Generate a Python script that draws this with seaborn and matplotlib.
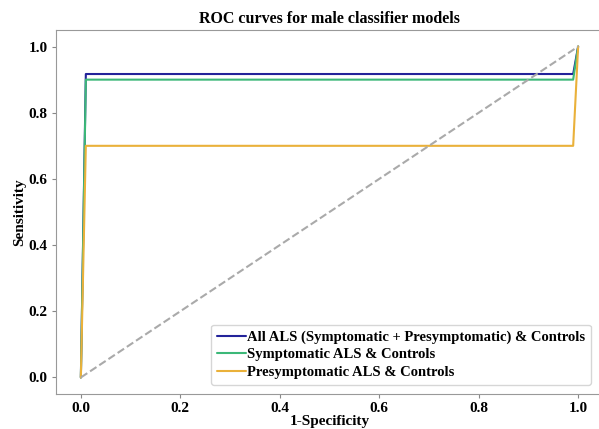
import pandas as pd
import seaborn as sns
import matplotlib.pyplot as plt

# ROC points
fpr = [0.0, 0.01, 0.99, 1.0]
tpr_all = [0.0, 0.917, 0.917, 1.0]
tpr_sym = [0.0, 0.90, 0.90, 1.0]
tpr_pre = [0.0, 0.70, 0.70, 1.0]
labels = ['All ALS (Symptomatic + Presymptomatic) & Controls',
          'Symptomatic ALS & Controls',
          'Presymptomatic ALS & Controls']
colors = ['#23239a', '#3cb878', '#eab13a']

sns.set_style('ticks')
plt.rcParams['font.family'] = ['Liberation Serif', 'DejaVu Serif']
plt.rcParams['font.weight'] = 'bold'
plt.rcParams['text.color'] = 'black'
plt.rcParams['axes.labelcolor'] = 'black'
plt.rcParams['xtick.labelcolor'] = 'black'
plt.rcParams['ytick.labelcolor'] = 'black'

fig = plt.figure(figsize=(5.99, 4.29), dpi=100)
ax = fig.add_axes([56 / 599, 35 / 429, 547 / 599, 364 / 429])

for tpr, lab, col in zip([tpr_all, tpr_sym, tpr_pre], labels, colors):
    df = pd.DataFrame({'fpr': fpr, 'tpr': tpr})
    sns.lineplot(data=df, x='fpr', y='tpr', ax=ax, color=col, label=lab,
                 linewidth=1.5, estimator=None, sort=False)

ax.plot([0, 1], [0, 1], linestyle='--', color='#aaaaaa', linewidth=1.5)

ax.set_xlim(-0.05, 1.05)
ax.set_ylim(-0.05, 1.05)
ax.set_xticks([0, 0.2, 0.4, 0.6, 0.8, 1.0])
ax.set_yticks([0, 0.2, 0.4, 0.6, 0.8, 1.0])
ax.tick_params(labelsize=11, color='#888888', length=3, pad=3)
for lbl in ax.get_xticklabels() + ax.get_yticklabels():
    lbl.set_fontweight('bold')
for sp in ax.spines.values():
    sp.set_color('#999999')

ax.set_xlabel('1-Specificity', fontsize=11, fontweight='bold', labelpad=0)
ax.set_ylabel('Sensitivity', fontsize=11, fontweight='bold', labelpad=2)
ax.set_title('ROC curves for male classifier models', fontsize=11.5, fontweight='bold', pad=5)

leg = ax.legend(loc='lower right', prop={'weight': 'bold', 'size': 10.5},
                handlelength=2, handletextpad=0.1, labelspacing=0.3,
                bbox_to_anchor=(0.992, 0.005))

plt.savefig('out.png', dpi=100)
